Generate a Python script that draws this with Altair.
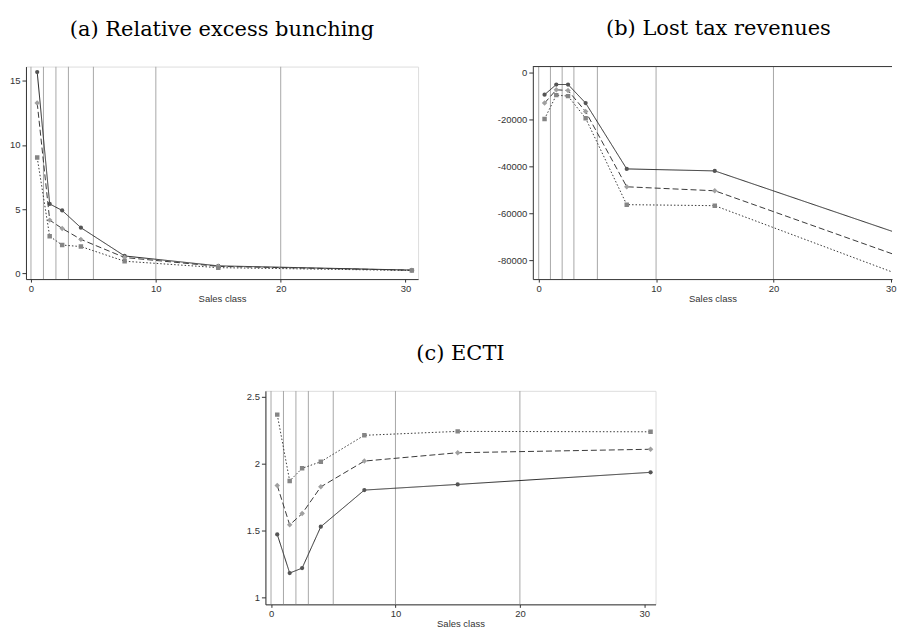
import altair as alt
import pandas as pd

# ---- data ----
sales_class = [0.5, 1.5, 2.5, 4, 7.5, 15, 30.5]
series_names = ["solid", "dashed", "dotted"]

a_solid = [15.67, 5.41, 4.90, 3.56, 1.36, 0.59, 0.26]
a_dashed = [13.27, 4.15, 3.50, 2.65, 1.24, 0.55, 0.25]
a_dotted = [9.02, 2.89, 2.21, 2.09, 0.95, 0.45, 0.23]

b_solid = [-9300, -4950, -4950, -12870, -40930, -41780, -68200]
b_dashed = [-12870, -7200, -7490, -16500, -48550, -50250, -77800]
b_dotted = [-19640, -9480, -9900, -19340, -56170, -56600, -85600]

c_solid = [1.472, 1.184, 1.221, 1.529, 1.802, 1.844, 1.934]
c_dashed = [1.836, 1.543, 1.627, 1.826, 2.018, 2.080, 2.106]
c_dotted = [2.364, 1.870, 1.964, 2.013, 2.210, 2.239, 2.236]

vlines = [0, 1, 2, 3, 5, 10, 20]
x_ticks = [0, 10, 20, 30]
a_yticks = [0, 5, 10, 15]
b_yticks = [0, -20000, -40000, -60000, -80000]
c_yticks = [1, 1.5, 2, 2.5]

titles = ["(a) Relative excess bunching", "(b) Lost tax revenues", "(c) ECTI"]


def frame(vals):
    rows = []
    for name, ys in zip(series_names, vals):
        for xv, yv in zip(sales_class, ys):
            rows.append({"series": name, "x": xv, "y": yv})
    return pd.DataFrame(rows)


AX_FONT = "Liberation Sans"
TITLE_FONT = "DejaVu Serif"
TITLE_SIZE = 21
TITLE_OFFSET = 27


def panel(df, title, xdom, ydom, yticks, w, h, title_dx=0, open_right=False):
    xs = alt.Scale(domain=xdom, nice=False, zero=False)
    ys = alt.Scale(domain=ydom, nice=False, zero=False)
    xax = alt.Axis(values=x_ticks, title="Sales class", grid=False, tickSize=3,
                   labelFontSize=9.5, titleFontSize=9.5, titleFontWeight="normal",
                   labelFont=AX_FONT, titleFont=AX_FONT, labelColor="#333",
                   titleColor="#333", domainColor="#333", tickColor="#333",
                   titlePadding=1, labelPadding=1, labelFlush=open_right)
    yax = alt.Axis(values=yticks, title=None, grid=False, tickSize=4,
                   labelFontSize=9.5, labelFont=AX_FONT, labelColor="#333",
                   domainColor="#333", tickColor="#333", labelPadding=2,
                   labelExpr="toString(datum.value)")
    vdf = pd.DataFrame({"v": vlines})
    rules = alt.Chart(vdf).mark_rule(color="#a8a8a8", strokeWidth=1, clip=True).encode(
        x=alt.X("v:Q", scale=xs, axis=xax)
    )
    base = alt.Chart(df)
    layers = [rules]
    styles = {
        "solid": dict(color="#2a2a2a", dash=[1, 0], pcolor="#555555", shape="circle", size=18),
        "dashed": dict(color="#3a3a3a", dash=[6, 3], pcolor="#a0a0a0", shape="diamond", size=30),
        "dotted": dict(color="#3a3a3a", dash=[1.5, 2], pcolor="#858585", shape="square", size=20),
    }
    for name in series_names:
        st = styles[name]
        sub = base.transform_filter(alt.datum.series == name)
        ln = sub.mark_line(color=st["color"], strokeDash=st["dash"], strokeWidth=1, clip=True).encode(
            x=alt.X("x:Q", scale=xs, axis=xax),
            y=alt.Y("y:Q", scale=ys, axis=yax),
        )
        pt = sub.mark_point(shape=st["shape"], filled=True, color=st["pcolor"], size=st["size"],
                            opacity=1, clip=True).encode(
            x=alt.X("x:Q", scale=xs, axis=xax),
            y=alt.Y("y:Q", scale=ys, axis=yax),
        )
        layers += [ln, pt]
    props = dict(
        width=w, height=h,
        title=alt.TitleParams(title, font=TITLE_FONT, fontSize=TITLE_SIZE, fontWeight="normal",
                              color="#000", offset=TITLE_OFFSET, anchor="middle", dx=title_dx),
    )
    if open_right:
        top_line = alt.Chart(pd.DataFrame({"z": [0]})).mark_rule(color="#333", strokeWidth=1).encode(
            x=alt.value(0), x2=alt.value(w), y=alt.value(0)
        )
        layers.append(top_line)
        props["view"] = alt.ViewBackground(stroke=None)
    return alt.layer(*layers).properties(**props)


pa = panel(frame([a_solid, a_dashed, a_dotted]), titles[0], [-0.4, 31.0], [-0.44, 16.1],
           a_yticks, 393, 213)
pb = panel(frame([b_solid, b_dashed, b_dotted]), titles[1], [-0.5, 30.1], [-87900, 2700],
           b_yticks, 360, 213, title_dx=6, open_right=True)
pc = panel(frame([c_solid, c_dashed, c_dotted]), titles[2], [-0.45, 30.9], [0.951, 2.541],
           c_yticks, 391, 214)

spacer = alt.Chart(pd.DataFrame({"z": [0]})).mark_point(opacity=0).encode(
    x=alt.value(0), y=alt.value(0)
).properties(width=220, height=10, view=alt.ViewBackground(stroke=None))

top = alt.hconcat(pa, pb, spacing=78)
bottom = alt.hconcat(spacer, pc, spacing=0)

chart = alt.vconcat(top, bottom, spacing=38).properties(
    padding={"left": 0, "top": 9, "right": 0, "bottom": 0},
    autosize=alt.AutoSizeParams(type="pad"),
).configure_view(stroke="#333", strokeWidth=1).configure(background="white")

chart.save("out.html", embed_options={"renderer": "svg", "actions": False})
